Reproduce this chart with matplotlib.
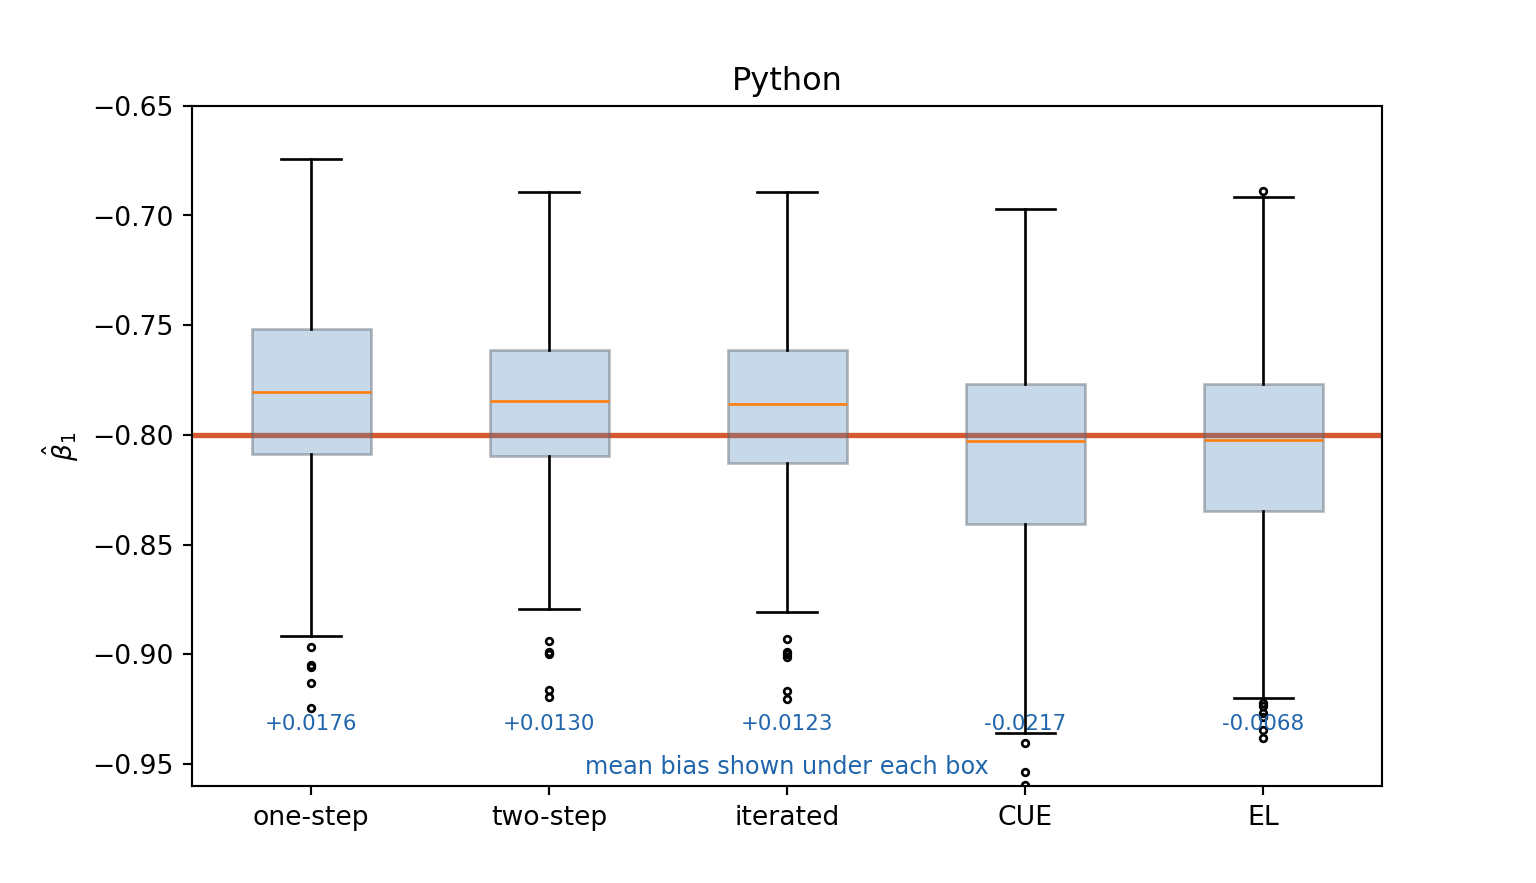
import matplotlib
matplotlib.use("Agg")
import matplotlib.pyplot as plt

labels = ["one-step", "two-step", "iterated", "CUE", "EL"]
whislo = [-0.8917, -0.8794, -0.8807, -0.9359, -0.9200]
q1 = [-0.8087, -0.8096, -0.8128, -0.8406, -0.8347]
med = [-0.7804, -0.7845, -0.7859, -0.8028, -0.8023]
q3 = [-0.7517, -0.7613, -0.7613, -0.7768, -0.7768]
whishi = [-0.6742, -0.6892, -0.6892, -0.6970, -0.6915]
fliers = [
    [-0.8967, -0.9049, -0.9059, -0.9131, -0.9245],
    [-0.8941, -0.8988, -0.8994, -0.9000, -0.9163, -0.9196],
    [-0.8932, -0.8988, -0.9000, -0.9014, -0.9166, -0.9202],
    [-0.9403, -0.9535, -0.9596],
    [-0.6888, -0.9221, -0.9236, -0.9269, -0.9284, -0.9345, -0.9383],
]
mean_bias = ["+0.0176", "+0.0130", "+0.0123", "-0.0217", "-0.0068"]
true_value = -0.80

stats = []
for i, lab in enumerate(labels):
    stats.append(dict(label=lab, whislo=whislo[i], q1=q1[i], med=med[i],
                      q3=q3[i], whishi=whishi[i], fliers=fliers[i]))

fig, ax = plt.subplots(figsize=(8, 4.6), dpi=192)
ax.axhline(true_value, color="#d65a31", lw=2.0, zorder=1)
bp = ax.bxp(stats, patch_artist=True, widths=0.5,
            flierprops=dict(marker="o", markersize=2.5, markerfacecolor="none",
                            markeredgecolor="black", markeredgewidth=1.0),
            medianprops=dict(color="#ff7f0e", lw=1.0))
for b in bp["boxes"]:
    b.set_facecolor((70/255, 130/255, 180/255, 0.3))
    b.set_edgecolor((0.35, 0.38, 0.42, 0.45))
    b.set_linewidth(1.0)
    b.set_zorder(2)

for i, t in enumerate(mean_bias):
    ax.text(i + 1, -0.9318, t, ha="center", va="center", fontsize=8, color="#2166ac")
ax.text(0.5, 0.028, "mean bias shown under each box", transform=ax.transAxes,
        ha="center", va="center", fontsize=9, color="#2166ac")

ax.set_ylim(-0.96, -0.65)
ax.set_title("Python")
ax.set_ylabel(r"$\hat{\beta}_1$")
fig.savefig("out.png", dpi=192)
